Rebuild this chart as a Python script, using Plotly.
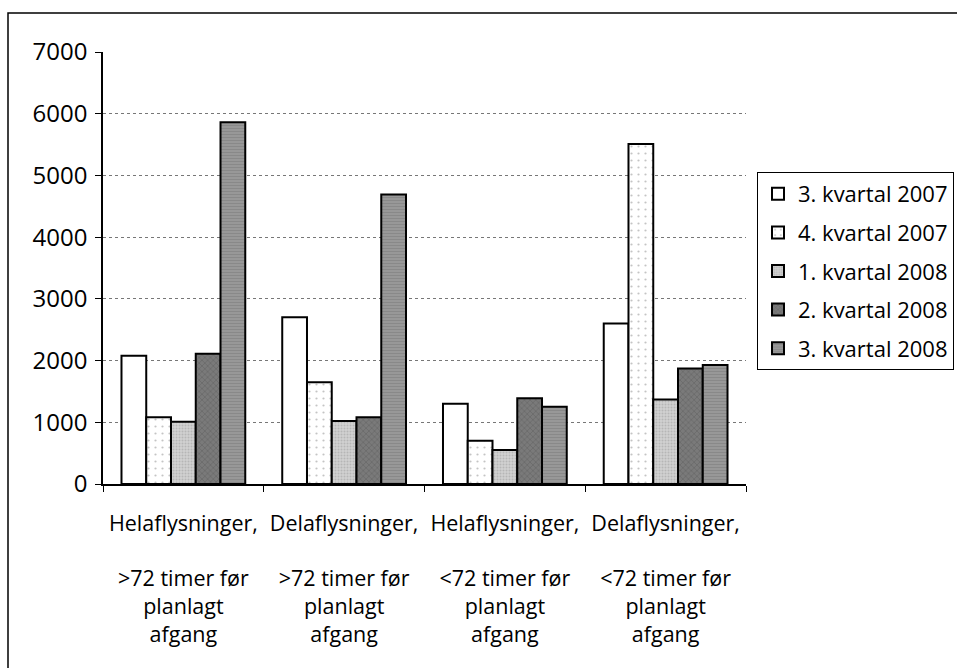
import plotly.graph_objects as go

categories = [
    "Helaflysninger,<br><br>&gt;72 timer før<br>planlagt<br>afgang",
    "Delaflysninger,<br><br>&gt;72 timer før<br>planlagt<br>afgang",
    "Helaflysninger,<br><br>&lt;72 timer før<br>planlagt<br>afgang",
    "Delaflysninger,<br><br>&lt;72 timer før<br>planlagt<br>afgang",
]
series_names = ["3. kvartal 2007", "4. kvartal 2007", "1. kvartal 2008",
                "2. kvartal 2008", "3. kvartal 2008"]
q3_2007 = [2080, 2700, 1300, 2600]
q4_2007 = [1080, 1650, 700, 5510]
q1_2008 = [1010, 1020, 550, 1370]
q2_2008 = [2110, 1080, 1390, 1870]
q3_2008 = [5860, 4690, 1250, 1930]
y_ticks = [0, 1000, 2000, 3000, 4000, 5000, 6000, 7000]

series_values = [q3_2007, q4_2007, q1_2008, q2_2008, q3_2008]
fills = ["#ffffff", "#ffffff", "#c4c4c4", "#6e6e6e", "#8e8e8e"]
patterns = [
    dict(shape=""),
    dict(shape=".", fgcolor="#8a8a8a", bgcolor="#ffffff", size=7, solidity=0.08),
    dict(shape=".", fgcolor="#9a9a9a", bgcolor="#d2d2d2", size=3, solidity=0.4),
    dict(shape="x", fgcolor="#505050", bgcolor="#7a7a7a", size=4, solidity=0.3),
    dict(shape="-", fgcolor="#777777", bgcolor="#9a9a9a", size=3, solidity=0.4),
]

FONT = "Open Sans"

fig = go.Figure()
for i, (name, vals) in enumerate(zip(series_names, series_values)):
    fig.add_trace(go.Bar(
        x=categories, y=vals, name=name,
        marker=dict(color=fills[i], line=dict(color="#000000", width=2),
                    pattern=patterns[i]),
        legendgroup=name,
    ))

L, R, T, B = 103, 211, 52, 184
W, H = 957, 668
pw, ph = W - L - R, H - T - B

def px_x(x):
    return (x - L) / pw

def px_y(y):
    return (H - B - y) / ph

fig.add_shape(type="rect", xref="paper", yref="paper",
              x0=px_x(8), x1=px_x(1100), y0=px_y(800), y1=px_y(13),
              line=dict(color="#000000", width=1.5), fillcolor="rgba(0,0,0,0)",
              layer="above")

fig.update_layout(
    width=W, height=H,
    margin=dict(l=L, r=R, t=T, b=B, autoexpand=False),
    paper_bgcolor="#ffffff", plot_bgcolor="#ffffff",
    font=dict(family=FONT, color="#000000"),
    barmode="group", bargap=0.23, bargroupgap=0,
    showlegend=True,
    legend=dict(
        xref="container", yref="container",
        x=757 / W, xanchor="left", y=1 - 172 / H, yanchor="top",
        bordercolor="#000000", borderwidth=1, bgcolor="#ffffff",
        font=dict(family=FONT, size=22, color="#000000"),
        tracegroupgap=7, traceorder="grouped",
    ),
    xaxis=dict(
        showline=True, linecolor="#000000", linewidth=1.5,
        ticks="outside", tickson="boundaries", ticklen=6, tickcolor="#000000",
        tickfont=dict(family=FONT, size=21.5, color="#000000"),
        ticklabelstandoff=19,
        showgrid=False,
    ),
    yaxis=dict(
        range=[0, 7000], tickvals=y_ticks,
        showline=True, linecolor="#000000", linewidth=1.5,
        ticks="outside", ticklen=6, tickcolor="#000000",
        tickfont=dict(family=FONT, size=24, color="#000000"),
        ticklabelstandoff=3,
        showgrid=True, gridcolor="#777777", gridwidth=1, griddash="dot",
        zeroline=False,
    ),
)

fig.write_html("out.html", config={"displayModeBar": False},
               post_script="document.body.style.margin='0';")
